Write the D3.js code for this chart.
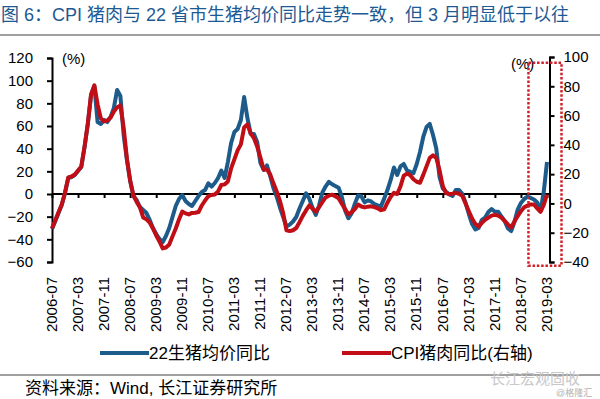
<!DOCTYPE html>
<html>
<head>
<meta charset="utf-8">
<script src="https://cdn.jsdelivr.net/npm/d3@7"></script>
<style>
  body { margin: 0; background: #fff; }
  text { font-family: "Liberation Sans", Arial, "Noto Sans CJK SC", sans-serif; }
</style>
</head>
<body>
<div id="chart"></div>
<script>
// monthly categories 2006-07 .. 2019-03
const months = d3.timeMonth.range(new Date(2006, 6, 1), new Date(2019, 3, 1)).map(d3.timeFormat("%Y-%m"));

const tickLabels = ["2006-07", "2007-03", "2007-11", "2008-07", "2009-03", "2009-11", "2010-07",
  "2011-03", "2011-11", "2012-07", "2013-03", "2013-11", "2014-07", "2015-03", "2015-11",
  "2016-07", "2017-03", "2017-11", "2018-07", "2019-03"];

const leftTicks = [-60, -40, -20, 0, 20, 40, 60, 80, 100, 120];
const rightTicks = [-40, -20, 0, 20, 40, 60, 80, 100];

// 22省市生猪均价同比 (left axis, %)
const hogYoY = [
  -30.9, -23.8, -16.8, -9.7, 0.9, 14.1, 15.0, 16.8, 20.3, 23.8,
  41.5, 61.8, 87.4, 95.3, 63.5, 61.8, 65.3, 63.5, 68.0, 75.9,
  91.8, 86.5, 52.1, 30.0, 11.5, -1.8, -5.3, -11.5, -14.1, -16.8,
  -22.9, -30.0, -35.3, -39.7, -42.4, -37.1, -30.0, -20.3, -10.6, -4.4,
  -0.9, -6.2, -8.8, -10.6, -6.2, -1.8, 1.8, 3.5, 9.4, 6.6,
  9.7, 14.1, 20.7, 14.1, 28.2, 45.0, 54.7, 57.4, 65.3, 85.6,
  67.1, 53.0, 53.0, 45.9, 27.4, 21.2, 25.2, 15.9, 5.3, -2.4,
  -11.9, -20.3, -28.7, -27.0, -24.3, -20.3, -12.8, -6.2, 0.6, -4.0,
  -12.3, -18.4, -10.2, 1.2, 6.6, 10.8, 8.6, 7.1, 5.6, -2.6,
  -14.6, -21.4, -17.2, -8.5, -1.3, -2.2, -7.4, -5.6, -6.6, -8.8,
  -10.1, -10.9, -4.1, 3.5, 12.4, 23.4, 16.8, 24.3, 26.5, 20.9,
  19.6, 18.4, 26.5, 37.1, 50.3, 59.1, 61.8, 52.1, 40.2, 15.0,
  4.9, 1.8, -0.4, -1.8, 3.5, 3.5, 0.0, -7.9, -17.7, -26.5,
  -31.3, -30.0, -22.8, -20.8, -15.9, -13.2, -15.6, -15.6, -19.9, -23.8,
  -30.4, -32.7, -24.7, -13.7, -7.9, -4.4, -2.4, -3.5, -4.9, -7.5,
  -15.0, 1.8, 28.2
];

// CPI猪肉同比 (right axis, %)
const cpiPorkYoY = [
  -17.1, -11.6, -6.1, -0.7, 7.5, 17.8, 18.4, 19.8, 22.5, 25.3,
  38.9, 54.6, 74.5, 80.6, 67.6, 58.1, 56.0, 56.7, 58.7, 62.8,
  65.6, 66.9, 51.9, 30.7, 15.7, 5.5, 1.0, -2.7, -9.6, -10.9,
  -13.0, -17.1, -21.9, -26.0, -30.7, -30.1, -28.0, -22.5, -17.1, -10.9,
  -5.5, -6.8, -7.5, -6.5, -6.4, -5.9, -1.4, 2.0, 5.0, 5.8,
  6.1, 8.2, 12.6, 13.0, 15.0, 23.9, 30.1, 36.2, 40.3, 51.9,
  54.0, 47.8, 44.7, 38.9, 31.4, 23.2, 23.2, 19.8, 13.7, 8.2,
  1.6, -6.8, -18.4, -18.9, -18.3, -16.8, -12.8, -8.5, -4.8, -1.4,
  -3.6, -5.6, -2.6, 0.8, 4.1, 5.3, 6.0, 4.9, 3.6, -0.2,
  -3.9, -7.5, -6.0, -3.8, -0.8, -2.1, -2.7, -2.2, -2.0, -2.5,
  -3.3, -4.6, -4.0, 0.5, 4.6, 7.2, 6.4, 11.6, 18.9, 20.4,
  19.3, 16.5, 14.8, 14.1, 19.5, 25.3, 31.1, 32.8, 31.1, 22.7,
  11.8, 7.0, 6.3, 6.7, 7.2, 6.6, 5.1, -0.1, -5.3, -10.3,
  -14.0, -15.8, -13.3, -11.2, -9.7, -8.3, -7.8, -8.3, -9.7, -11.9,
  -14.3, -16.4, -12.4, -8.6, -5.3, -2.6, -1.5, -0.7, -0.7, -3.4,
  -5.7, -1.0, 6.1
];

const blue = "#1c5b8a", red = "#c00d16";
const leftX = 52, rightX = 549.5;

const svg = d3.select("#chart").append("svg")
  .attr("width", 600).attr("height", 399);

// title
svg.append("text")
  .attr("x", 1).attr("y", 21)
  .attr("font-size", 18).attr("fill", "#1d5a93")
  .text("图 6：CPI 猪肉与 22 省市生猪均价同比走势一致，但 3 月明显低于以往");
svg.append("line")
  .attr("x1", 0).attr("x2", 600).attr("y1", 35).attr("y2", 35)
  .attr("stroke", "#7f7f7f").attr("stroke-width", 1.5);

const x = d3.scalePoint().domain(months).range([52, 547]);
const yL = d3.scaleLinear().domain([-60, 120]).range([262, 58]);
const yR = d3.scaleLinear().domain([-40, 100]).range([262, 57]);

// left axis
const gL = svg.append("g")
  .attr("transform", "translate(" + leftX + ",0)")
  .call(d3.axisLeft(yL).tickValues(leftTicks).tickSize(5).tickPadding(14));

// right axis
const gR = svg.append("g")
  .attr("transform", "translate(" + rightX + ",0)")
  .call(d3.axisRight(yR).tickValues(rightTicks).tickSize(5).tickPadding(9));

[gL, gR].forEach(g => {
  g.select(".domain").attr("stroke", "#000").attr("stroke-width", 2);
  g.selectAll(".tick line").attr("stroke", "#000").attr("stroke-width", 2);
  g.selectAll("text").attr("font-size", 15).attr("fill", "#000")
    .style("font-family", "'Liberation Sans', Arial, sans-serif");
});

// zero line with month ticks
const gZ = svg.append("g")
  .attr("transform", "translate(0," + yL(0) + ")")
  .call(d3.axisBottom(x).tickValues(tickLabels).tickSize(4).tickFormat(""));
gZ.select(".domain").remove();
gZ.selectAll(".tick line").attr("stroke", "#000").attr("stroke-width", 2);
svg.append("line")
  .attr("x1", leftX).attr("x2", rightX)
  .attr("y1", yL(0)).attr("y2", yL(0))
  .attr("stroke", "#000").attr("stroke-width", 2);

// month labels at the bottom
const gX = svg.append("g")
  .attr("transform", "translate(0,270)")
  .call(d3.axisBottom(x).tickValues(tickLabels).tickSize(0));
gX.select(".domain").remove();
gX.selectAll("text")
  .attr("transform", "rotate(-90)")
  .attr("x", -7).attr("y", -1).attr("dy", "0.35em")
  .style("text-anchor", "end")
  .attr("font-size", 15).attr("fill", "#000")
  .style("font-family", "'Liberation Sans', Arial, sans-serif");

// unit labels
svg.append("text").attr("x", 62).attr("y", 64).attr("font-size", 15).text("(%)");
svg.append("text").attr("x", 511).attr("y", 69).attr("font-size", 15).text("(%)");

// series
const lineL = d3.line().x((d, i) => x(months[i])).y(d => yL(d));
const lineR = d3.line().x((d, i) => x(months[i])).y(d => yR(d));

svg.append("path").datum(hogYoY)
  .attr("d", lineL).attr("fill", "none")
  .attr("stroke", blue).attr("stroke-width", 4).attr("stroke-linejoin", "round");
svg.append("path").datum(cpiPorkYoY)
  .attr("d", lineR).attr("fill", "none")
  .attr("stroke", red).attr("stroke-width", 4).attr("stroke-linejoin", "round");

// highlight box around the latest months
svg.append("rect")
  .attr("x", x(months[146]) + 1)
  .attr("y", yR(96))
  .attr("width", rightX + 12 - (x(months[146]) + 1))
  .attr("height", yR(-42.5) - yR(96))
  .attr("fill", "none").attr("stroke", "#d0202a")
  .attr("stroke-width", 2.5).attr("stroke-dasharray", "2.5,1.8");

// legend
const legend = [
  { name: "22生猪均价同比", color: blue, x: 100 },
  { name: "CPI猪肉同比(右轴)", color: red, x: 342 }
];
const lg = svg.selectAll(".lg").data(legend).enter().append("g")
  .attr("transform", d => "translate(" + d.x + ",353)");
lg.append("line").attr("x1", 0).attr("x2", 49)
  .attr("stroke", d => d.color).attr("stroke-width", 4);
lg.append("text").attr("x", 49).attr("y", 6)
  .attr("font-size", 17).attr("fill", "#000").text(d => d.name);

// footer
svg.append("line")
  .attr("x1", 0).attr("x2", 600).attr("y1", 375).attr("y2", 375)
  .attr("stroke", "#7f7f7f").attr("stroke-width", 1.5);
svg.append("text").attr("x", 25).attr("y", 394)
  .attr("font-size", 17).attr("fill", "#000")
  .text("资料来源：Wind, 长江证券研究所");

// watermark
svg.append("text").attr("x", 490).attr("y", 384)
  .attr("font-size", 15).attr("fill", "#c8c8c8").text("长江宏观固收");
svg.append("text").attr("x", 556).attr("y", 396)
  .attr("font-size", 9).attr("fill", "#b0b0b0").text("@格隆汇");
</script>
</body>
</html>
